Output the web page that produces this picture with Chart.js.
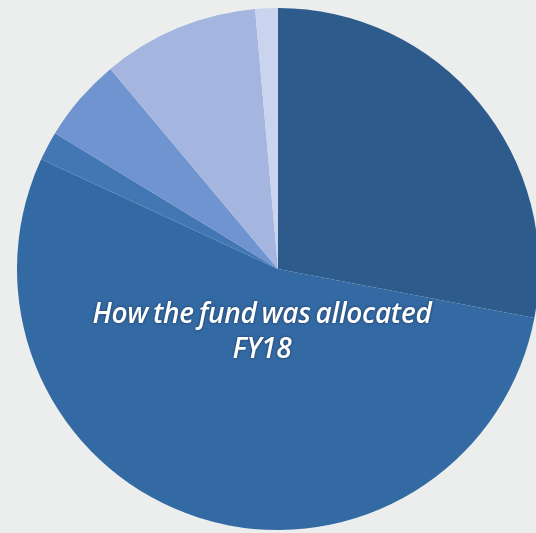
<!DOCTYPE html>
<html lang="en">
  <head>
    <meta charset="UTF-8" />
    <title>How the fund was allocated FY18</title>
    <script src="https://cdn.jsdelivr.net/npm/chart.js"></script>
    <style>
      html, body {
        margin: 0;
        padding: 0;
        width: 536px;
        height: 533px;
        overflow: hidden;
        background: #eceeee;
      }
      #pieChart {
        position: absolute;
        left: 17px;
        top: 8px;
      }
      .caption {
        position: absolute;
        left: 42px;
        width: 440px;
        top: 295px;
        text-align: center;
        color: #ffffff;
        font-family: "Open Sans", sans-serif;
        font-style: italic;
        font-weight: 600;
        font-size: 28px;
        line-height: 35px;
        letter-spacing: -0.3px;
        word-spacing: -2px;
        text-shadow: 0 0 3px rgba(20, 40, 70, 0.8);
      }
    </style>
  </head>
  <body>
    <canvas id="pieChart" width="522" height="522"></canvas>
    <div class="caption">How the fund was allocated<br />FY18</div>

    <script>
      // fund shares (percent), clockwise from 12 o'clock
      const categories = ["A", "B", "C", "D", "E", "F"];
      const shares = [28.0, 53.9, 1.8, 5.2, 9.7, 1.4];
      const sliceColors = [
        "#2d5b8c",
        "#346aa4",
        "#4277b3",
        "#7094cf",
        "#a4b6e0",
        "#cad4ee",
      ];

      const ctx = document.getElementById("pieChart").getContext("2d");
      const pieChart = new Chart(ctx, {
        type: "pie",
        data: {
          labels: categories,
          datasets: [
            {
              data: shares,
              backgroundColor: sliceColors,
              borderWidth: 0,
            },
          ],
        },
        options: {
          responsive: false,
          animation: false,
          layout: { padding: 0 },
          plugins: {
            legend: { display: false },
            tooltip: { enabled: false },
          },
        },
      });
    </script>
  </body>
</html>
